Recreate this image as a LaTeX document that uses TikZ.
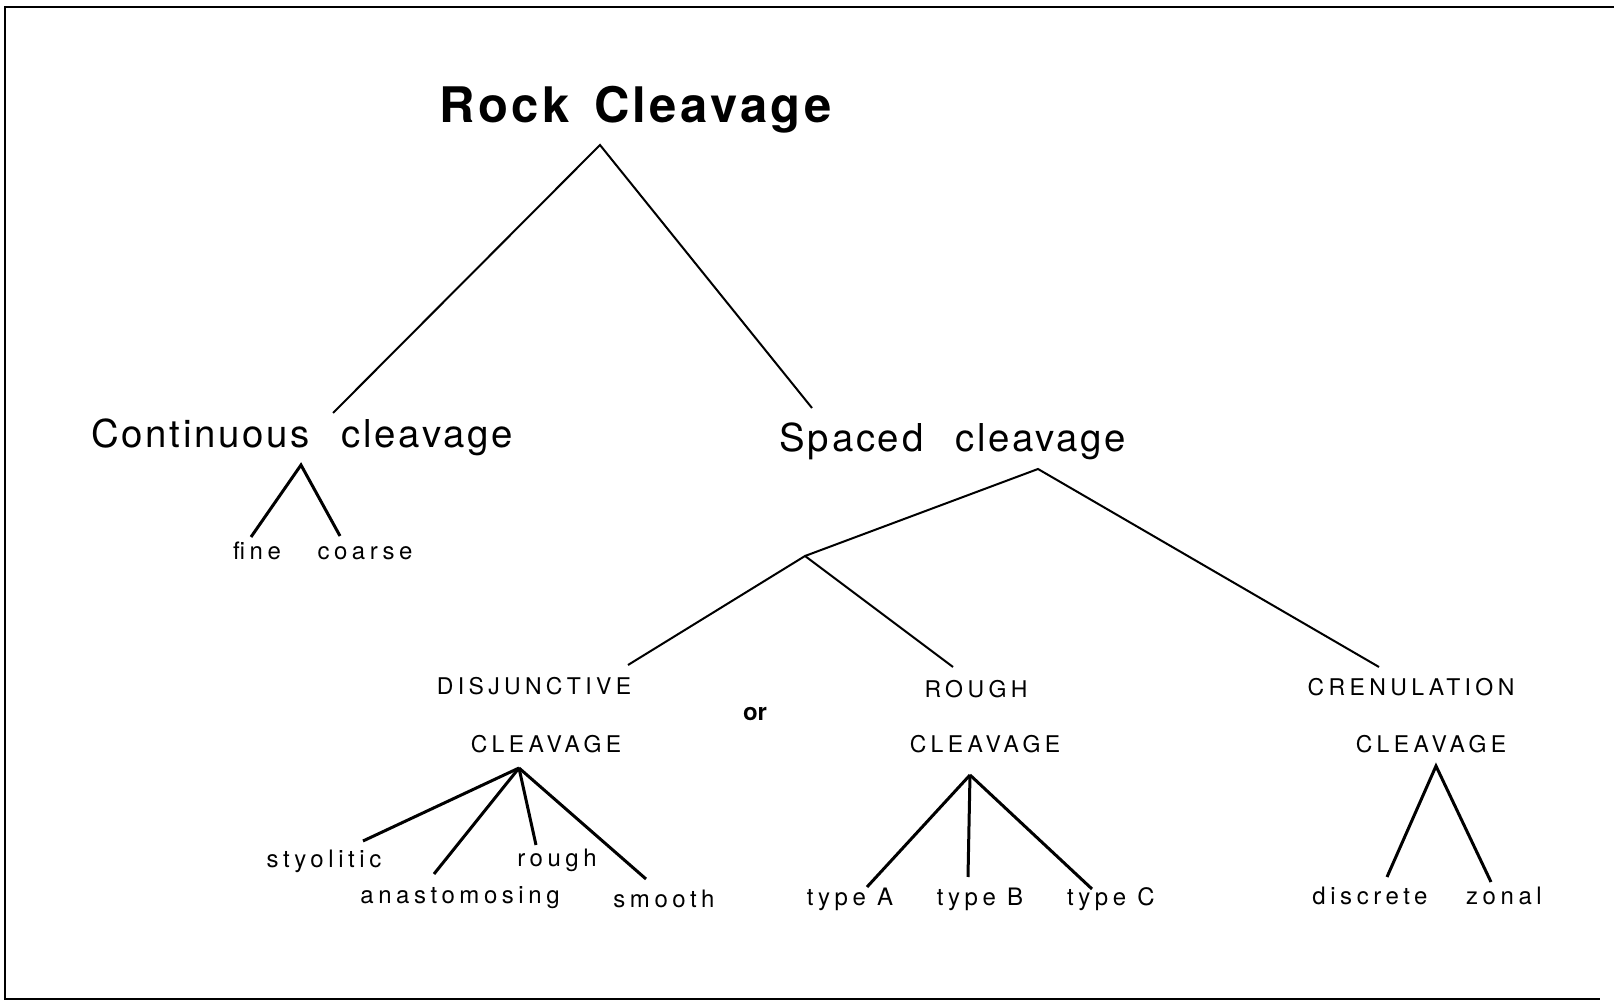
\documentclass[tikz,border=0pt]{standalone}
\usepackage{fontspec}
\setmainfont{TeX Gyre Heros}
\newfontfamily\widefont[LetterSpace=7]{TeX Gyre Heros}
\newfontfamily\spacedfont[LetterSpace=19]{TeX Gyre Heros}
\usetikzlibrary{positioning,calc}

\tikzset{
    title/.style={anchor=base, inner sep=0pt, font=\widefont\bfseries\fontsize{24.5}{29}\selectfont},
    kind/.style={anchor=base, inner sep=0pt, font=\widefont\fontsize{19.2}{23}\selectfont},
    group/.style={anchor=base, inner sep=0pt, font=\spacedfont\fontsize{11.5}{14}\selectfont},
    leaf/.style={anchor=base, inner sep=0pt, font=\spacedfont\fontsize{12}{14}\selectfont},
    branch/.style={line width=1pt},
    twig/.style={line width=1.5pt}
}

\begin{document}
\begin{tikzpicture}[x=0.5pt, y=-0.5pt]
                    \useasboundingbox (0,0) rectangle (1614,1005);
                    \draw[line width=0.8pt] (1614,7) -- (5,7) -- (5,999) -- (1600,999);

                    % top of the tree
                    \coordinate (R0) at (600, 145);
                    \coordinate (R1) at (333, 413);
                    \coordinate (R2) at (812, 408);

                    \node (root) at (636, 123)[title] {Rock\hspace{12pt}Cleavage};
                    \node (cont) at (302, 448)[kind] {Continuous\hspace{16pt}cleavage};
                    \node (spaced) at (953, 452)[kind] {Spaced\hspace{16pt}cleavage};

                    \draw[branch] (R1) -- (R0) -- (R2);

                    \coordinate (C0) at (301, 465);
                    \coordinate (C1) at (251, 537);
                    \coordinate (C2) at (340, 536);

                    \node (fine) at (257, 560)[leaf] {fine};
                    \node (coarse) at (365, 560)[leaf] {coarse};

                    \draw[twig] (C1) -- (C0) -- (C2);

                    \coordinate (S0) at (1038, 469);
                    \coordinate (S1) at (805, 556);
                    \coordinate (S2) at (1379, 667);
                    \coordinate (S3) at (628, 665);
                    \coordinate (S4) at (953, 667);

                    \draw[branch] (S1) -- (S0) -- (S2);
                    \draw[branch] (S3) -- (S1) -- (S4);

                    \node (disj) at (534, 695)[group] {DISJUNCTIVE};
                    \node (disjcl) at (546, 753)[group] {CLEAVAGE};
                    \node (orword) at (755, 721)[anchor=base, inner sep=0pt, font=\bfseries\fontsize{12}{14}\selectfont] {or};
                    \node (rough) at (976, 698)[group] {ROUGH};
                    \node (roughcl) at (985, 753)[group] {CLEAVAGE};
                    \node (cren) at (1411, 696)[group] {CRENULATION};
                    \node (crencl) at (1431, 753)[group] {CLEAVAGE};

                    % disjunctive
                    \coordinate (D0) at (519, 768);
                    \coordinate (D1) at (363, 841);
                    \coordinate (D2) at (434, 874);
                    \coordinate (D3) at (536, 845);
                    \coordinate (D4) at (646, 879);

                    \foreach \i in {1, 2, 3, 4}
                    \draw[twig] (D0) -- (D\i);

                    \node (styo) at (324, 868)[leaf] {styolitic};
                    \node (anas) at (460, 903)[leaf] {anastomosing};
                    \node (rgh) at (557, 867)[leaf] {rough};
                    \node (smooth) at (664, 907)[leaf] {smooth};

                    % rough
                    \coordinate (G0) at (970, 775);
                    \coordinate (G1) at (867, 887);
                    \coordinate (G2) at (968, 877);
                    \coordinate (G3) at (1092, 889);

                    \foreach \i in {1, 2, 3}
                    \draw[twig] (G0) -- (G\i);

                    \node (typeA) at (850, 906)[leaf] {type A};
                    \node (typeB) at (980, 906)[leaf] {type B};
                    \node (typeC) at (1111, 906)[leaf] {type C};

                    % crenulation
                    \coordinate (K0) at (1436, 766);
                    \coordinate (K1) at (1387, 877);
                    \coordinate (K2) at (1491, 882);

                    \draw[twig] (K1) -- (K0) -- (K2);

                    \node (discrete) at (1370, 905)[leaf] {discrete};
                    \node (zonal) at (1504, 905)[leaf] {zonal};
                \end{tikzpicture}
\end{document}
